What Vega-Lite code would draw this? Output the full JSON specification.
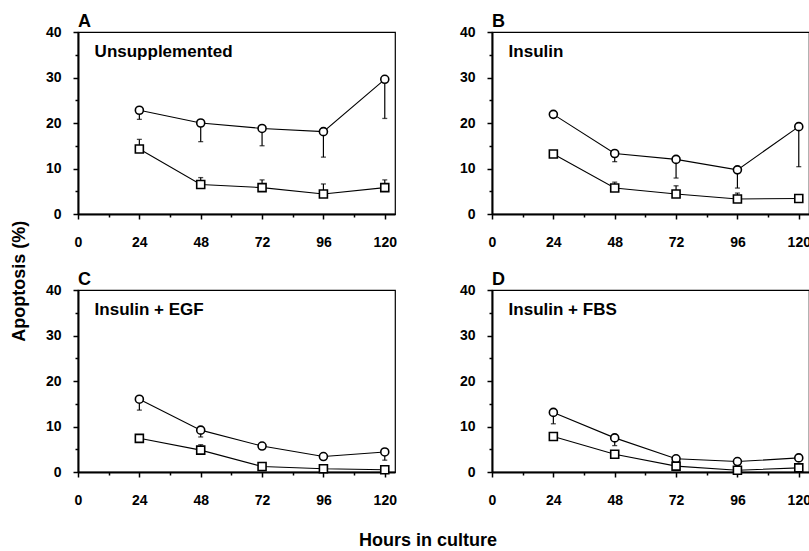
{
  "$schema": "https://vega.github.io/schema/vega-lite/v6.json",
  "padding": {"left": 10, "top": 12, "right": 1, "bottom": 1},
  "background": "white",
  "config": {
    "font": "Liberation Sans",
    "view": {"stroke": "black", "strokeWidth": 1.2},
    "axis": {
      "domainColor": "black",
      "domainWidth": 2,
      "tickColor": "black",
      "tickWidth": 1.5,
      "labelColor": "black",
      "labelFont": "Liberation Sans",
      "labelFontSize": 14,
      "labelFontWeight": "bold",
      "grid": false,
      "title": null
    }
  },
  "title": {
    "text": "Apoptosis (%)",
    "orient": "left",
    "anchor": "middle",
    "fontSize": 18,
    "fontWeight": "bold",
    "font": "Liberation Sans",
    "color": "black",
    "offset": 16
  },
  "data": {
    "values": [
      {"panel": "A", "treatment": "Unsupplemented", "hours": 24, "series": "circle", "apoptosis": 22.8, "errEnd": 20.8},
      {"panel": "A", "treatment": "Unsupplemented", "hours": 48, "series": "circle", "apoptosis": 20.0, "errEnd": 15.9},
      {"panel": "A", "treatment": "Unsupplemented", "hours": 72, "series": "circle", "apoptosis": 18.8, "errEnd": 15.0},
      {"panel": "A", "treatment": "Unsupplemented", "hours": 96, "series": "circle", "apoptosis": 18.1, "errEnd": 12.5},
      {"panel": "A", "treatment": "Unsupplemented", "hours": 120, "series": "circle", "apoptosis": 29.6, "errEnd": 21.0},
      {"panel": "A", "treatment": "Unsupplemented", "hours": 24, "series": "square", "apoptosis": 14.3, "errEnd": 16.4},
      {"panel": "A", "treatment": "Unsupplemented", "hours": 48, "series": "square", "apoptosis": 6.5, "errEnd": 8.0},
      {"panel": "A", "treatment": "Unsupplemented", "hours": 72, "series": "square", "apoptosis": 5.8, "errEnd": 7.5},
      {"panel": "A", "treatment": "Unsupplemented", "hours": 96, "series": "square", "apoptosis": 4.4, "errEnd": 6.6},
      {"panel": "A", "treatment": "Unsupplemented", "hours": 120, "series": "square", "apoptosis": 5.8, "errEnd": 7.5},

      {"panel": "B", "treatment": "Insulin", "hours": 24, "series": "circle", "apoptosis": 21.9, "errEnd": null},
      {"panel": "B", "treatment": "Insulin", "hours": 48, "series": "circle", "apoptosis": 13.3, "errEnd": 11.5},
      {"panel": "B", "treatment": "Insulin", "hours": 72, "series": "circle", "apoptosis": 12.0, "errEnd": 7.9},
      {"panel": "B", "treatment": "Insulin", "hours": 96, "series": "circle", "apoptosis": 9.7, "errEnd": 5.7},
      {"panel": "B", "treatment": "Insulin", "hours": 120, "series": "circle", "apoptosis": 19.2, "errEnd": 10.4},
      {"panel": "B", "treatment": "Insulin", "hours": 24, "series": "square", "apoptosis": 13.2, "errEnd": null},
      {"panel": "B", "treatment": "Insulin", "hours": 48, "series": "square", "apoptosis": 5.7, "errEnd": 7.0},
      {"panel": "B", "treatment": "Insulin", "hours": 72, "series": "square", "apoptosis": 4.4, "errEnd": 6.2},
      {"panel": "B", "treatment": "Insulin", "hours": 96, "series": "square", "apoptosis": 3.3, "errEnd": 4.6},
      {"panel": "B", "treatment": "Insulin", "hours": 120, "series": "square", "apoptosis": 3.4, "errEnd": null},

      {"panel": "C", "treatment": "Insulin + EGF", "hours": 24, "series": "circle", "apoptosis": 16.0, "errEnd": 13.6},
      {"panel": "C", "treatment": "Insulin + EGF", "hours": 48, "series": "circle", "apoptosis": 9.2, "errEnd": 7.7},
      {"panel": "C", "treatment": "Insulin + EGF", "hours": 72, "series": "circle", "apoptosis": 5.7, "errEnd": 5.0},
      {"panel": "C", "treatment": "Insulin + EGF", "hours": 96, "series": "circle", "apoptosis": 3.4, "errEnd": null},
      {"panel": "C", "treatment": "Insulin + EGF", "hours": 120, "series": "circle", "apoptosis": 4.4, "errEnd": 2.6},
      {"panel": "C", "treatment": "Insulin + EGF", "hours": 24, "series": "square", "apoptosis": 7.4, "errEnd": 8.1},
      {"panel": "C", "treatment": "Insulin + EGF", "hours": 48, "series": "square", "apoptosis": 4.8, "errEnd": 6.0},
      {"panel": "C", "treatment": "Insulin + EGF", "hours": 72, "series": "square", "apoptosis": 1.2, "errEnd": 1.8},
      {"panel": "C", "treatment": "Insulin + EGF", "hours": 96, "series": "square", "apoptosis": 0.7, "errEnd": null},
      {"panel": "C", "treatment": "Insulin + EGF", "hours": 120, "series": "square", "apoptosis": 0.5, "errEnd": null},

      {"panel": "D", "treatment": "Insulin + FBS", "hours": 24, "series": "circle", "apoptosis": 13.1, "errEnd": 10.6},
      {"panel": "D", "treatment": "Insulin + FBS", "hours": 48, "series": "circle", "apoptosis": 7.5, "errEnd": 5.8},
      {"panel": "D", "treatment": "Insulin + FBS", "hours": 72, "series": "circle", "apoptosis": 2.9, "errEnd": null},
      {"panel": "D", "treatment": "Insulin + FBS", "hours": 96, "series": "circle", "apoptosis": 2.3, "errEnd": null},
      {"panel": "D", "treatment": "Insulin + FBS", "hours": 120, "series": "circle", "apoptosis": 3.1, "errEnd": null},
      {"panel": "D", "treatment": "Insulin + FBS", "hours": 24, "series": "square", "apoptosis": 7.8, "errEnd": null},
      {"panel": "D", "treatment": "Insulin + FBS", "hours": 48, "series": "square", "apoptosis": 3.9, "errEnd": null},
      {"panel": "D", "treatment": "Insulin + FBS", "hours": 72, "series": "square", "apoptosis": 1.3, "errEnd": null},
      {"panel": "D", "treatment": "Insulin + FBS", "hours": 96, "series": "square", "apoptosis": 0.4, "errEnd": null},
      {"panel": "D", "treatment": "Insulin + FBS", "hours": 120, "series": "square", "apoptosis": 0.9, "errEnd": null}
    ]
  },
  "facet": {
    "field": "panel",
    "type": "nominal",
    "header": {
      "title": "Hours in culture",
      "titleOrient": "bottom",
      "titleFontSize": 18,
      "titleFontWeight": "bold",
      "titleColor": "black",
      "titleFont": "Liberation Sans",
      "titlePadding": 24,
      "labelAnchor": "start",
      "labelFontSize": 18,
      "labelFontWeight": "bold",
      "labelColor": "black",
      "labelFont": "Liberation Sans",
      "labelPadding": -6
    }
  },
  "columns": 2,
  "spacing": {"column": 60, "row": 20},
  "resolve": {"axis": {"x": "independent", "y": "independent"}},
  "spec": {
    "width": 317,
    "height": 182,
    "encoding": {
      "x": {
        "field": "hours",
        "type": "quantitative",
        "scale": {"domain": [0, 124], "nice": false},
        "axis": {
          "values": [0, 12, 24, 36, 48, 60, 72, 84, 96, 108, 120],
          "labelExpr": "datum.value % 24 === 0 ? datum.label : ''",
          "tickSize": {"condition": {"test": "datum.value % 24 === 0", "value": 5}, "value": 3},
          "labelPadding": 16,
          "labelFlush": false
        }
      },
      "y": {
        "field": "apoptosis",
        "type": "quantitative",
        "scale": {"domain": [0, 40], "nice": false},
        "axis": {
          "values": [0, 5, 10, 15, 20, 25, 30, 35, 40],
          "labelExpr": "datum.value % 10 === 0 ? datum.label : ''",
          "tickSize": {"condition": {"test": "datum.value % 10 === 0", "value": 5}, "value": 3},
          "labelPadding": 12
        }
      }
    },
    "layer": [
      {
        "mark": {"type": "line", "color": "black", "strokeWidth": 1.1},
        "encoding": {"detail": {"field": "series"}}
      },
      {
        "transform": [{"filter": "isValid(datum.errEnd)"}],
        "mark": {"type": "rule", "color": "black", "strokeWidth": 1.2},
        "encoding": {"y2": {"field": "errEnd"}}
      },
      {
        "transform": [{"filter": "isValid(datum.errEnd)"}],
        "mark": {"type": "tick", "orient": "horizontal", "color": "black", "size": 5, "thickness": 1.3},
        "encoding": {"y": {"field": "errEnd", "type": "quantitative"}}
      },
      {
        "mark": {"type": "point", "filled": false, "fill": "white", "stroke": "black", "strokeWidth": 1.6, "size": 64, "opacity": 1},
        "encoding": {
          "shape": {
            "field": "series",
            "type": "nominal",
            "scale": {"domain": ["circle", "square"], "range": ["circle", "square"]},
            "legend": null
          }
        }
      },
      {
        "transform": [{"filter": "datum.hours === 24 && datum.series === 'circle'"}],
        "mark": {"type": "text", "align": "left", "baseline": "middle", "fontSize": 17, "fontWeight": "bold", "color": "black", "font": "Liberation Sans"},
        "encoding": {
          "x": {"datum": 6.5},
          "y": {"datum": 35.6},
          "text": {"field": "treatment"}
        }
      }
    ]
  }
}
